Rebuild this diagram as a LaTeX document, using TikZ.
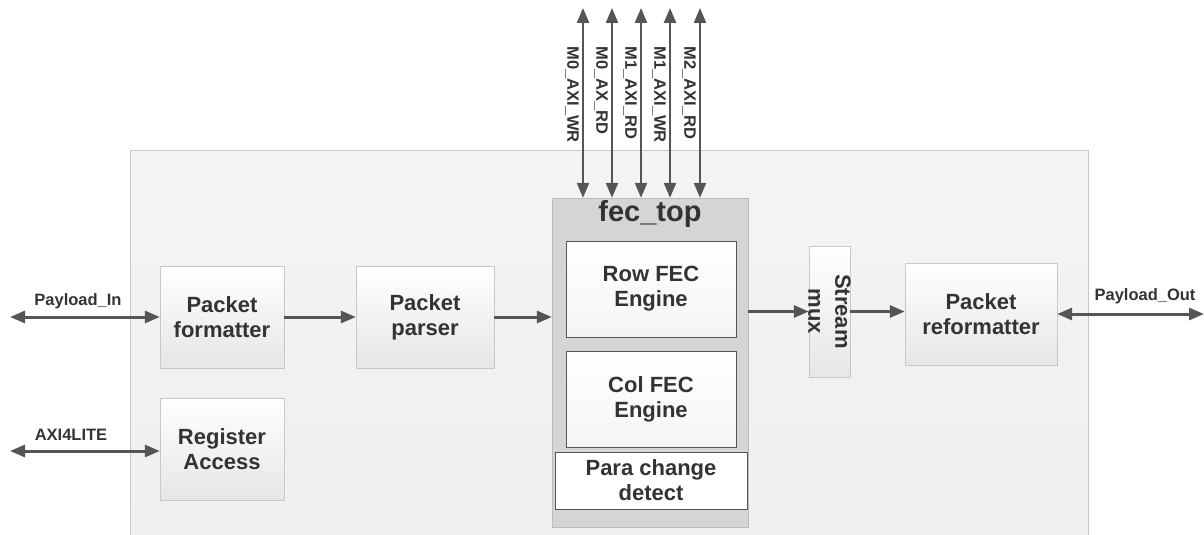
\documentclass[tikz,border=0pt]{standalone}
\usepackage{fontspec}
\setmainfont{Liberation Sans}
\usepackage{tikz}
\usepackage{xcolor}
\usetikzlibrary{arrows.meta,positioning}
\definecolor{line-gray}{HTML}{555555}
\definecolor{text-gray}{HTML}{333333}
\definecolor{box-edge}{HTML}{C8C8C8}
\definecolor{box-shade}{HTML}{E6E6E6}
\definecolor{engine-edge}{HTML}{555555}
\definecolor{fec-fill}{HTML}{D5D5D5}
\definecolor{fec-edge}{HTML}{BBBBBB}
\definecolor{core-fill}{HTML}{F4F4F4}
\definecolor{core-shade}{HTML}{EFEFF1}
\tikzset{
    core-box/.style = {draw=box-edge, top color=core-fill, bottom color=core-shade, rectangle, minimum width=958pt, minimum height=395pt},
    block-box/.style = {draw=box-edge, top color=white, bottom color=box-shade, rectangle, align=center, text=text-gray, font=\bfseries\fontsize{22}{25}\selectfont},
    fec-box/.style = {draw=fec-edge, fill=fec-fill, rectangle, minimum width=196pt, minimum height=329pt},
    fec-title/.style = {text=text-gray, font=\bfseries\fontsize{29}{32}\selectfont},
    engine-box/.style = {block-box, draw=engine-edge, top color=white, bottom color=black!4},
    signal/.style = {draw=line-gray, line width=3pt, -{Triangle[length=15pt,width=12pt]}},
    bus/.style = {draw=line-gray, line width=3pt, {Triangle[length=15pt,width=12pt]}-{Triangle[length=15pt,width=12pt]}},
    mem-bus/.style = {bus, line width=2.5pt},
    signal-label/.style = {text=text-gray, font=\bfseries\fontsize{16.5}{19}\selectfont},
}

\begin{document}
\begin{tikzpicture}[x=1pt, y=-1pt]
\useasboundingbox (0,0) rectangle (1204,535);
\node [core-box] (core) at (609,347.5) {};

\node [block-box, minimum width=124pt, minimum height=102pt] (fmt) at (222,317) {Packet\\formatter};
\node [block-box, minimum width=124pt, minimum height=102pt] (reg) at (222,449) {Register\\Access};
\node [block-box, minimum width=138pt, minimum height=102pt] (parser) at (425,317) {Packet\\parser};

\node [fec-box] (fectop) at (650,362.5) {};
\node [fec-title] (fectitle) at ([yshift=-16pt]fectop.north) {fec\_top};
\node [engine-box, minimum width=170pt, minimum height=96pt] (row) at (651,289) {Row FEC\\Engine};
\node [engine-box, minimum width=170pt, minimum height=96pt] (col) at (651,399) {Col FEC\\Engine};
\node [engine-box, minimum width=192pt, minimum height=57pt, top color=white, bottom color=white] (para) at (651,480.5) {Para change\\detect};

\node [block-box, minimum width=41pt, minimum height=131pt] (mux) at (829.5,311.5) {};
\node [rotate=-90, align=center, text=text-gray, font=\bfseries\fontsize{22}{27}\selectfont] (muxtext) at (mux.center) {Stream\\mux};
\node [block-box, minimum width=152pt, minimum height=102pt] (reform) at (981,314) {Packet\\reformatter};

\coordinate (pin) at (10,317);
\coordinate (axi) at (10,451);
\coordinate (pout) at (1204,314);

\draw [bus] (pin) -- (pin -| fmt.west);
\node [signal-label] (pin-label) at (78,301) {Payload\_In};
\draw [bus] (axi) -- (axi -| reg.west);
\node [signal-label] (axi-label) at (71,435) {AXI4LITE};
\draw [signal] (fmt) -- (parser);
\draw [signal] (parser) -- (parser -| fectop.west);
\draw [signal] (mux -| fectop.east) -- (mux.west);
\draw [signal] (mux.east) -- (mux.east -| reform.west);
\draw [bus] (reform.east |- pout) -- (pout);
\node [signal-label] (pout-label) at (1145,296) {Payload\_Out};

\foreach \name/\xpos/\lbl in {wr0/583/M0\_AXI\_WR, rd0/612/M0\_AX\_RD, rd1/641/M1\_AXI\_RD, wr1/670/M1\_AXI\_WR, rd2/700/M2\_AXI\_RD} {
    \coordinate (\name) at (\xpos,8);
    \draw [mem-bus] (\name) -- (\name |- fectop.north);
    \node [signal-label, rotate=-90, anchor=west] (\name-label) at (\xpos-11,43) {\lbl};
}
\end{tikzpicture}
\end{document}
